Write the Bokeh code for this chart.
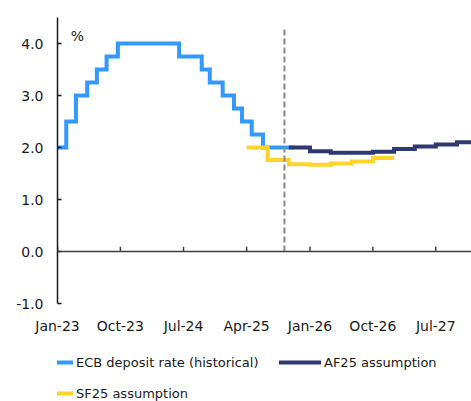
import pandas as pd
from bokeh.plotting import figure
from bokeh.layouts import column
from bokeh.models import (FixedTicker, DatetimeTickFormatter, NumeralTickFormatter,
                          Span, Legend, LegendItem, Label, Range1d)
from bokeh.embed import file_html
from bokeh.resources import INLINE

# ---------------- data ----------------
ecb_dates = ["2023-01-01", "2023-02-08", "2023-03-22", "2023-05-10", "2023-06-21",
             "2023-08-02", "2023-09-20", "2024-06-12", "2024-09-18", "2024-10-23",
             "2024-12-18", "2025-02-05", "2025-03-12", "2025-04-23", "2025-06-11",
             "2025-10-25"]
ecb_rates = [2.0, 2.5, 3.0, 3.25, 3.5, 3.75, 4.0, 3.75, 3.5, 3.25,
             3.0, 2.75, 2.5, 2.25, 2.0, 2.0]

af25_dates = ["2025-10-01", "2026-01-01", "2026-04-01", "2026-07-01", "2026-10-01",
              "2027-01-01", "2027-04-01", "2027-07-01", "2027-10-01", "2028-01-01"]
af25_values = [2.00, 1.93, 1.90, 1.90, 1.92, 1.97, 2.02, 2.06, 2.10, 2.10]

sf25_dates = ["2025-04-01", "2025-07-01", "2025-10-01", "2026-01-01", "2026-04-01",
              "2026-07-01", "2026-10-01", "2027-01-01"]
sf25_values = [2.00, 1.76, 1.68, 1.67, 1.69, 1.73, 1.80, 1.80]

x_tick_dates = ["2023-01-01", "2023-10-01", "2024-07-01", "2025-04-01",
                "2026-01-01", "2026-10-01", "2027-07-01"]
y_ticks = [-1, 0, 1, 2, 3, 4]
cutoff_date = "2025-09-12"
cutoff_top = 4.3
x_start, x_end = "2023-01-01", "2027-12-03"
y_start, y_end = -1.0, 4.5

series_names = ["ECB deposit rate (historical)", "AF25 assumption", "SF25 assumption"]
colors = ["#3399ff", "#2e3873", "#ffd42a"]


def ms(d):
    return pd.Timestamp(d).timestamp() * 1000.0


FONT = "DejaVu Sans"
TXT = "#1a1a1a"

p = figure(width=471, height=340, x_axis_type="datetime",
           output_backend="svg", toolbar_location=None,
           x_range=Range1d(ms(x_start), ms(x_end)),
           y_range=Range1d(y_start, y_end),
           min_border_left=57, min_border_top=17, min_border_right=0,
           min_border_bottom=37)
p.outline_line_color = None
p.xgrid.visible = False
p.ygrid.visible = False
p.background_fill_color = "white"
p.border_fill_color = "white"

# y axis
yax = p.yaxis[0]
yax.ticker = FixedTicker(ticks=y_ticks)
yax.formatter = NumeralTickFormatter(format="0.0")
yax.axis_line_color = TXT
yax.axis_line_width = 1.5
yax.major_tick_in = 4
yax.major_tick_out = 0
yax.major_tick_line_color = TXT
yax.major_tick_line_width = 1.5
yax.minor_tick_line_color = None
yax.minor_tick_in = 0
yax.minor_tick_out = 0
yax.major_label_text_font = FONT
yax.major_label_text_font_size = "14px"
yax.major_label_text_color = TXT
yax.major_label_standoff = 14

# x axis (labels only)
xax = p.xaxis[0]
xax.ticker = FixedTicker(ticks=[ms(d) for d in x_tick_dates])
fmt = "%b-%y"
xax.formatter = DatetimeTickFormatter(milliseconds=fmt, seconds=fmt, minsec=fmt,
                                      minutes=fmt, hourmin=fmt, hours=fmt, days=fmt,
                                      months=fmt, years=fmt)
xax.axis_line_color = None
xax.major_tick_line_color = None
xax.minor_tick_line_color = None
xax.major_tick_in = 0
xax.major_tick_out = 0
xax.minor_tick_in = 0
xax.minor_tick_out = 0
xax.major_label_text_font = FONT
xax.major_label_text_font_size = "14px"
xax.major_label_text_color = TXT
xax.major_label_standoff = 14

# zero line with upward ticks
p.add_layout(Span(location=0, dimension="width", line_color="#404040", line_width=1.5))
tick_x = [ms(d) for d in x_tick_dates]
p.segment(x0=tick_x, y0=[0] * len(tick_x), x1=tick_x, y1=[0.09] * len(tick_x),
          line_color="#404040", line_width=1.5)

# series
r_ecb = p.step([ms(d) for d in ecb_dates], ecb_rates, mode="after",
               line_color=colors[0], line_width=4, line_join="miter", line_cap="butt")
r_af = p.step([ms(d) for d in af25_dates], af25_values, mode="after",
              line_color=colors[1], line_width=4, line_join="miter", line_cap="butt")
r_sf = p.step([ms(d) for d in sf25_dates], sf25_values, mode="after",
              line_color=colors[2], line_width=4, line_join="miter", line_cap="butt")

# cutoff dashed line
p.segment(x0=[ms(cutoff_date)], y0=[0], x1=[ms(cutoff_date)], y1=[cutoff_top],
          line_color="#8a8a8a", line_width=2, line_dash="6 3")

# unit label
p.add_layout(Label(x=ms("2023-03-28"), y=4.15, text="%", text_font=FONT,
                   text_font_size="14px", text_color=TXT, text_align="center",
                   text_baseline="middle"))

# ---------------- legend strip ----------------
q = figure(width=471, height=61, output_backend="svg", toolbar_location=None,
           x_range=Range1d(0, 1), y_range=Range1d(0, 1),
           x_axis_location=None, y_axis_location=None,
           min_border_left=0, min_border_right=0, min_border_top=0, min_border_bottom=0)
q.outline_line_color = None
q.xgrid.visible = False
q.ygrid.visible = False
q.border_fill_color = "white"

# legend keys (kept outside this strip's visible range)
k_ecb = q.line(x=[-2, -1], y=[-2, -2], line_color=colors[0], line_width=4, line_cap="round")
k_af = q.line(x=[-2, -1], y=[-2, -2], line_color=colors[1], line_width=4, line_cap="round")
k_sf = q.line(x=[-2, -1], y=[-2, -2], line_color=colors[2], line_width=4, line_cap="round")

leg = Legend(items=[LegendItem(label=series_names[0], renderers=[k_ecb]),
                    LegendItem(label=series_names[1], renderers=[k_af]),
                    LegendItem(label=series_names[2], renderers=[k_sf])],
             location=(-26, -2), orientation="horizontal", ncols=2,
             glyph_width=42, glyph_height=20, label_height=20, label_width=192,
             label_standoff=3, spacing=11, padding=0, margin=0,
             label_text_font=FONT, label_text_font_size="13px",
             label_text_color=TXT, border_line_color=None,
             background_fill_alpha=0)
q.add_layout(leg, "center")

layout = column(p, q, spacing=0)
open("out.html", "w").write(file_html(layout, INLINE))
